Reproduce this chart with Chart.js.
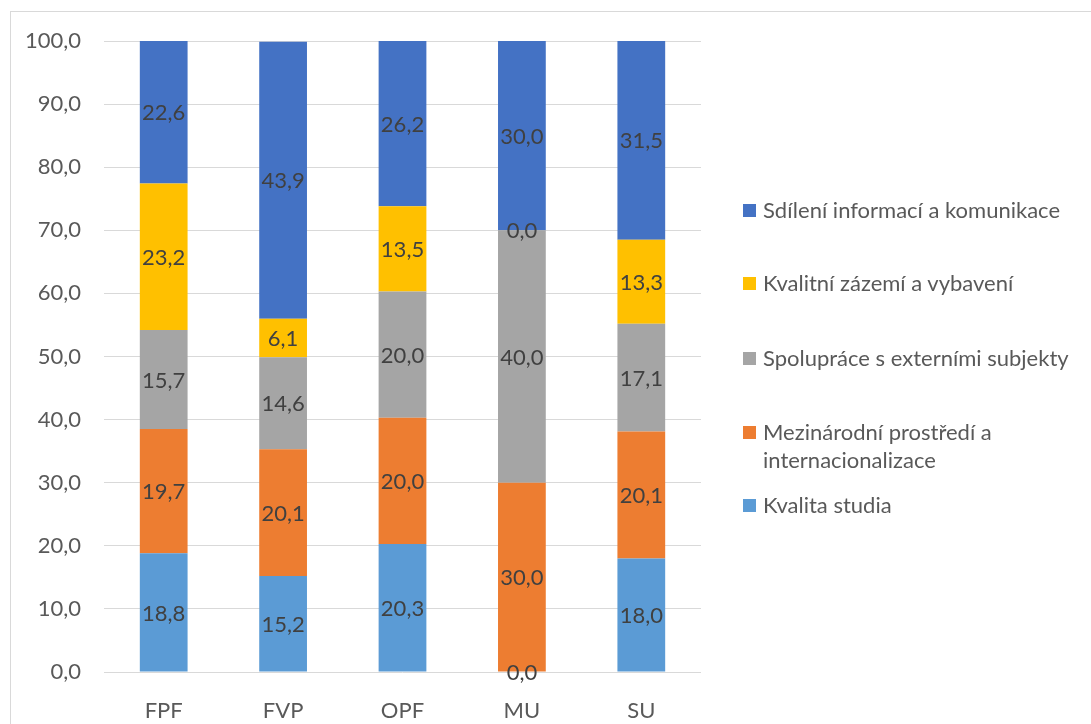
<!DOCTYPE html>
<html>
<head>
<meta charset="utf-8">
<script src="https://cdn.jsdelivr.net/npm/chart.js@4.4.0/dist/chart.umd.min.js"></script>
<style>
    html, body { margin: 0; padding: 0; background: #fff; overflow: hidden; }
    #wrap { position: relative; width: 1091px; height: 724px; }
    #frame { position: absolute; left: 10px; top: 11px; width: 1200px; height: 900px; border: 1px solid #d9d9d9; box-sizing: border-box; }
    #chart { position: absolute; left: 0; top: 0; }
    #legend { position: absolute; left: 743px; top: 0; font-family: Lato, sans-serif; font-size: 22px; color: #595959; }
    .item { position: absolute; left: 0; white-space: nowrap; line-height: 28px; }
    .box { position: absolute; left: 0; width: 13px; height: 13px; }
    .txt { position: absolute; left: 20px; }
</style>
</head>
<body>
<div id="wrap">
    <div id="frame"></div>
    <canvas id="chart" width="1091" height="724"></canvas>
    <div id="legend"></div>
</div>
<script>
const categories = ['FPF', 'FVP', 'OPF', 'MU', 'SU'];

const seriesNames = [
    'Kvalita studia',
    'Mezinárodní prostředí a internacionalizace',
    'Spolupráce s externími subjekty',
    'Kvalitní zázemí a vybavení',
    'Sdílení informací a komunikace'
];

const kvalitaStudia = [18.8, 15.2, 20.3, 0.0, 18.0];
const mezinarodni = [19.7, 20.1, 20.0, 30.0, 20.1];
const spoluprace = [15.7, 14.6, 20.0, 40.0, 17.1];
const zazemi = [23.2, 6.1, 13.5, 0.0, 13.3];
const sdileni = [22.6, 43.9, 26.2, 30.0, 31.5];

const yTicks = [0, 10, 20, 30, 40, 50, 60, 70, 80, 90, 100];

const colors = ['#5b9bd5', '#ed7d31', '#a5a5a5', '#ffc000', '#4472c4'];
const allValues = [kvalitaStudia, mezinarodni, spoluprace, zazemi, sdileni];

// legend rows (top to bottom, reversed like Excel)
const legendRows = [
    { idx: 4, top: 196, lines: ['Sdílení informací a komunikace'] },
    { idx: 3, top: 269, lines: ['Kvalitní zázemí a vybavení'] },
    { idx: 2, top: 344, lines: ['Spolupráce s externími subjekty'] },
    { idx: 1, top: 418, lines: ['Mezinárodní prostředí a', 'internacionalizace'] },
    { idx: 0, top: 491, lines: ['Kvalita studia'] }
];

const fmt = v => v.toFixed(1).replace('.', ',');

const legend = document.getElementById('legend');
legendRows.forEach(row => {
    const item = document.createElement('div');
    item.className = 'item';
    item.style.top = row.top + 'px';
    const box = document.createElement('div');
    box.className = 'box';
    box.style.background = colors[row.idx];
    box.style.top = '8px';
    const txt = document.createElement('div');
    txt.className = 'txt';
    txt.innerHTML = row.lines.join('<br>');
    item.appendChild(box);
    item.appendChild(txt);
    legend.appendChild(item);
});

// value labels in the middle of every segment
const valueLabels = {
    id: 'valueLabels',
    afterDatasetsDraw(chart) {
        const ctx = chart.ctx;
        ctx.save();
        ctx.font = '22px Lato';
        ctx.fillStyle = '#404040';
        ctx.textAlign = 'center';
        ctx.textBaseline = 'middle';
        chart.data.datasets.forEach((ds, i) => {
            const meta = chart.getDatasetMeta(i);
            meta.data.forEach((bar, j) => {
                const y = (bar.y + bar.base) / 2;
                ctx.fillText(fmt(ds.data[j]), bar.x, y + 1);
            });
        });
        ctx.restore();
    }
};

const ctx = document.getElementById('chart').getContext('2d');
const chart = new Chart(ctx, {
    type: 'bar',
    data: {
        labels: categories,
        datasets: seriesNames.map((name, i) => ({
            label: name,
            data: allValues[i],
            backgroundColor: colors[i],
            borderWidth: 0,
            barPercentage: 0.4,
            categoryPercentage: 1.0
        }))
    },
    options: {
        responsive: false,
        animation: false,
        layout: { padding: { left: 0, right: 390, top: 41, bottom: 0 } },
        plugins: {
            legend: { display: false },
            tooltip: { enabled: false }
        },
        scales: {
            x: {
                stacked: true,
                grid: { display: false },
                border: { display: false },
                ticks: { color: '#595959', font: { family: 'Lato', size: 22 }, padding: 18 },
                afterFit: scale => { scale.height = 52; }
            },
            y: {
                stacked: true,
                min: 0,
                max: 100,
                afterBuildTicks: scale => { scale.ticks = yTicks.map(v => ({ value: v })); },
                grid: { color: '#d9d9d9', lineWidth: 1, drawTicks: false },
                border: { display: false },
                ticks: {
                    color: '#595959',
                    font: { family: 'Lato', size: 22 },
                    padding: 23,
                    callback: v => fmt(v)
                },
                afterFit: scale => { scale.width = 104; }
            }
        }
    },
    plugins: [valueLabels]
});
</script>
</body>
</html>
